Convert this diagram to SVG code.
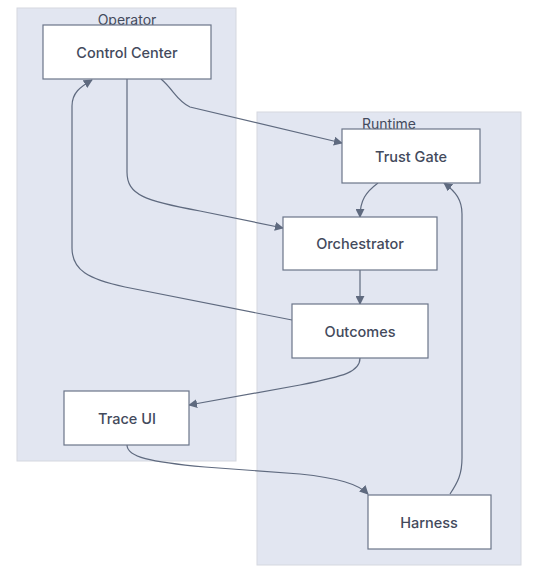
<svg xmlns="http://www.w3.org/2000/svg" width="548" height="572" viewBox="0 0 548 572">
<defs>
<style>
.cluster{fill:#e2e6f1;stroke:#d5d8df;stroke-width:1}
.node rect{fill:#ffffff;stroke:#6b7589;stroke-width:1.2}
text{font-family:Inter,"Noto Sans","Liberation Sans",sans-serif;fill:#434a5c;text-anchor:middle;dominant-baseline:central}
.lbl{font-size:14.5px;font-weight:500}
.clbl{font-size:14px}
.edge{fill:none;stroke:#5f6a7f;stroke-width:1.2}
</style>
<marker id="arr" viewBox="0 0 10 10" refX="9" refY="5" markerWidth="9" markerHeight="9" markerUnits="userSpaceOnUse" orient="auto">
<path d="M0,0 L10,5 L0,10 z" fill="#5f6a7f"/>
</marker>
</defs>
<rect width="548" height="572" fill="#ffffff"/>
<g id="cluster-operator">
<rect class="cluster" x="17" y="8" width="219" height="453"/>
<text class="clbl" x="127" y="19">Operator</text>
</g>
<g id="cluster-runtime">
<rect class="cluster" x="257" y="112" width="264" height="453"/>
<text class="clbl" x="389" y="123">Runtime</text>
</g>
<g id="connectors">
<path class="edge" marker-end="url(#arr)" d="M161,79 C174,90 176,100 190,107 L342,143"/>
<path class="edge" marker-end="url(#arr)" d="M127,79 L127,172 C127,195 145,201 200,211 L283,228"/>
<path class="edge" marker-end="url(#arr)" d="M378,183 C366,192 360,200 360,217"/>
<path class="edge" marker-end="url(#arr)" d="M360,270 L360,304"/>
<path class="edge" marker-end="url(#arr)" d="M292,320 L125,287 C88,279 72,270 72,248 L72,106 C72,93 80,87 92,80"/>
<path class="edge" marker-end="url(#arr)" d="M360,358 C360,372 345,376 300,385 L189,405"/>
<path class="edge" marker-end="url(#arr)" d="M127,445 C127,457 150,462 205,467 L300,474 C338,478 358,484 368,494"/>
<path class="edge" marker-end="url(#arr)" d="M450,494 C458,482 462,474 462,458 L462,214 C462,200 456,192 444,183"/>
</g>
<g id="node-control-center" class="node">
<rect x="43" y="25" width="168" height="54"/>
<text class="lbl" x="127" y="52">Control Center</text>
</g>
<g id="node-trust-gate" class="node">
<rect x="342" y="129" width="138" height="54"/>
<text class="lbl" x="411" y="156">Trust Gate</text>
</g>
<g id="node-orchestrator" class="node">
<rect x="283" y="217" width="154" height="53"/>
<text class="lbl" x="360" y="243">Orchestrator</text>
</g>
<g id="node-outcomes" class="node">
<rect x="292" y="304" width="136" height="54"/>
<text class="lbl" x="360" y="331">Outcomes</text>
</g>
<g id="node-trace-ui" class="node">
<rect x="64" y="391" width="125" height="54"/>
<text class="lbl" x="127" y="418">Trace UI</text>
</g>
<g id="node-harness" class="node">
<rect x="368" y="495" width="123" height="54"/>
<text class="lbl" x="429" y="522">Harness</text>
</g>
</svg>
